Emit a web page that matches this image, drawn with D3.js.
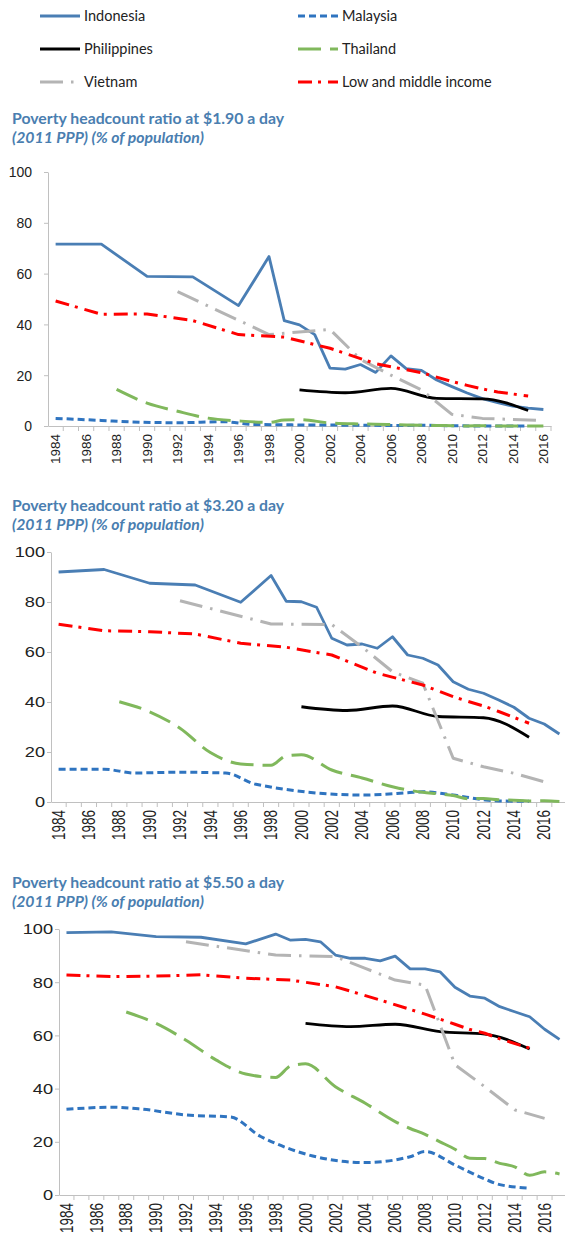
<!DOCTYPE html>
<html>
<head>
<meta charset="utf-8">
<script src="https://cdn.jsdelivr.net/npm/d3@7/dist/d3.min.js"></script>
<style>
  body { margin: 0; background: #fff; }
  svg { display: block; }
</style>
</head>
<body>
<svg id="chart" width="565" height="1239"></svg>
<script>
// ---- data ----
const seriesNames = ['Indonesia', 'Malaysia', 'Philippines', 'Thailand', 'Vietnam', 'Low and middle income'];
const yTicks = [0, 20, 40, 60, 80, 100];

// $1.90 a day
const indonesia190 = [[1984,71.6],[1987,71.6],[1990,58.9],[1993,58.7],[1996,47.4],[1998,66.7],[1999,41.5],[2000,39.8],[2001,36.0],[2002,22.8],[2003,22.4],[2004,24.2],[2005,21.1],[2006,27.6],[2007,22.6],[2008,21.9],[2009,18.1],[2010,15.5],[2011,13.0],[2012,10.8],[2013,9.2],[2014,7.8],[2015,7.0],[2016,6.5]];
const malaysia190 = [[1984,3.0],[1987,2.2],[1989,1.6],[1992,1.3],[1995,1.7],[1997,0.6],[2004,0.3],[2007,0.2],[2008,0.3],[2010,0.1],[2012,0],[2013,0],[2015,0]];
const philippines190 = [[2000,14.2],[2003,13.1],[2006,14.8],[2009,10.9],[2012,10.7],[2015,6.1]];
const thailand190 = [[1988,14.4],[1990,9.0],[1992,5.8],[1994,3.1],[1996,2.0],[1998,1.4],[1999,2.4],[2000,2.5],[2002,1.2],[2004,0.8],[2006,0.6],[2007,0.4],[2008,0.3],[2009,0.2],[2010,0.1],[2011,0],[2012,0.1],[2013,0],[2014,0],[2015,0],[2016,0]];
const vietnam190 = [[1992,52.9],[1998,36.0],[2002,38.0],[2004,26.2],[2006,20.0],[2008,14.2],[2010,4.6],[2012,3.0],[2014,2.6],[2016,2.1]];
const lmic190 = [[1984,49.2],[1987,44.0],[1990,44.1],[1993,41.5],[1996,36.0],[1999,35.0],[2002,30.6],[2005,24.5],[2008,21.0],[2010,17.5],[2011,16.0],[2012,14.6],[2013,13.4],[2015,11.8]];

// $3.20 a day
const indonesia320 = [[1984,92.0],[1987,93.0],[1990,87.5],[1993,86.8],[1996,79.9],[1998,90.6],[1999,80.3],[2000,80.1],[2001,77.9],[2002,65.5],[2003,62.8],[2004,63.2],[2005,61.5],[2006,66.1],[2007,58.8],[2008,57.5],[2009,54.8],[2010,48.1],[2011,45.1],[2012,43.5],[2013,40.8],[2014,37.9],[2015,33.5],[2016,31.2],[2017,27.2]];
const malaysia320 = [[1984,13.1],[1987,13.1],[1989,11.6],[1992,11.9],[1995,11.6],[1997,7.1],[2004,2.8],[2007,3.7],[2008,4.1],[2010,2.8],[2012,0.9],[2013,0.4],[2015,0.3]];
const philippines320 = [[2000,38.1],[2003,36.6],[2006,38.4],[2009,34.2],[2012,33.7],[2015,25.9]];
const thailand320 = [[1988,40.1],[1990,36.1],[1992,29.5],[1994,19.8],[1996,15.2],[1998,14.7],[1999,18.5],[2000,18.9],[2002,12.8],[2004,9.6],[2006,6.1],[2007,4.8],[2008,3.9],[2009,3.3],[2010,2.6],[2011,1.3],[2012,1.4],[2013,0.9],[2014,0.7],[2015,0.4],[2016,0.5],[2017,0.2]];
const vietnam320 = [[1992,80.5],[1998,71.2],[2002,71.0],[2004,62.0],[2006,52.1],[2008,47.5],[2010,17.5],[2012,14.1],[2014,11.5],[2016,8.1]];
const lmic320 = [[1984,71.1],[1987,68.5],[1990,68.1],[1993,67.2],[1996,63.5],[1999,61.9],[2002,58.8],[2005,51.5],[2008,46.8],[2010,42.1],[2011,40.2],[2012,38.4],[2013,36.2],[2015,31.5]];

// $5.50 a day
const indonesia550 = [[1984,98.6],[1987,98.9],[1990,97.1],[1993,96.9],[1996,94.4],[1998,98.1],[1999,95.8],[2000,96.1],[2001,95.2],[2002,90.2],[2003,89.0],[2004,89.0],[2005,88.0],[2006,89.8],[2007,85.0],[2008,85.0],[2009,83.9],[2010,78.1],[2011,74.8],[2012,74.0],[2013,70.8],[2014,68.9],[2015,67.0],[2016,62.3],[2017,58.5]];
const malaysia550 = [[1984,32.2],[1987,33.0],[1989,32.3],[1992,30.1],[1995,29.3],[1997,22.0],[2004,12.2],[2007,14.4],[2008,16.4],[2010,11.3],[2012,6.0],[2013,3.9],[2015,2.6]];
const philippines550 = [[2000,64.5],[2003,63.3],[2006,64.2],[2009,61.4],[2012,60.5],[2015,54.9]];
const thailand550 = [[1988,68.8],[1990,64.5],[1992,58.2],[1994,50.8],[1996,45.5],[1998,44.2],[1999,48.5],[2000,49.3],[2002,40.7],[2004,34.5],[2006,27.6],[2007,25.0],[2008,22.8],[2009,20.0],[2010,17.2],[2011,13.8],[2012,13.7],[2013,11.9],[2014,10.6],[2015,7.4],[2016,8.7],[2017,7.9]];
const vietnam550 = [[1992,95.2],[1998,90.2],[2002,89.6],[2004,85.2],[2006,80.8],[2008,78.9],[2010,49.0],[2012,40.7],[2014,32.0],[2016,28.8]];
const lmic550 = [[1984,82.7],[1987,82.1],[1990,82.3],[1993,82.8],[1996,81.5],[1999,80.8],[2002,78.3],[2005,73.3],[2008,68.0],[2010,64.2],[2011,62.2],[2012,60.8],[2013,58.7],[2015,55.2]];

// ---- styles ----
const styles = [
  {color: '#4a7eb4', dash: null,          width: 2.8, curve: d3.curveLinear},
  {color: '#2f74c0', dash: '7,4',         width: 3,   curve: d3.curveMonotoneX},
  {color: '#000000', dash: null,          width: 2.8, curve: d3.curveMonotoneX},
  {color: '#80b85c', dash: '23,9',        width: 3,   curve: d3.curveMonotoneX},
  {color: '#b4b4b4', dash: '23,8,2.5,8',  width: 3,   curve: d3.curveLinear},
  {color: '#ff0000', dash: '14,6,3,7',    width: 3,   curve: d3.curveLinear}
];

const svg = d3.select('#chart');
const titleColor = '#4a7eb0';

// legend, two columns
const legend = svg.append('g').attr('class', 'legend');
seriesNames.forEach((name, i) => {
  const lx = i % 2 === 0 ? 40 : 298,
        ly = 16 + Math.floor(i / 2) * 33;
  legend.append('line')
    .attr('x1', lx).attr('x2', lx + 40)
    .attr('y1', ly).attr('y2', ly)
    .attr('stroke', styles[i].color)
    .attr('stroke-width', 3)
    .attr('stroke-dasharray', styles[i].dash);
  legend.append('text')
    .attr('x', lx + 44).attr('y', ly + 5)
    .text(name)
    .style('font-family', "Lato, 'Open Sans', sans-serif")
    .style('font-size', '14.5px')
    .style('fill', '#222');
});

const panels = [
  {price: '$1.90', data: [indonesia190, malaysia190, philippines190, thailand190, vietnam190, lmic190],
   titleY: 124, left: 48, right: 551, top: 172, bottom: 426, lastYear: 2016, stretch: 1, labelGap: 16},
  {price: '$3.20', data: [indonesia320, malaysia320, philippines320, thailand320, vietnam320, lmic320],
   titleY: 511, left: 51, right: 567, top: 552, bottom: 802, lastYear: 2017, stretch: 1.3, labelGap: 6},
  {price: '$5.50', data: [indonesia550, malaysia550, philippines550, thailand550, vietnam550, lmic550],
   titleY: 888, left: 59, right: 567, top: 929, bottom: 1195, lastYear: 2017, stretch: 1.3, labelGap: 6}
];

function drawPanel(p){
  const g = svg.append('g');

  g.append('text')
    .attr('x', 12).attr('y', p.titleY)
    .text(`Poverty headcount ratio at ${p.price} a day`)
    .style('font-family', "Lato, sans-serif")
    .style('font-weight', 700)
    .style('font-size', '15.8px')
    .style('fill', titleColor);
  g.append('text')
    .attr('x', 12).attr('y', p.titleY + 19)
    .text('(2011 PPP) (% of population)')
    .style('font-family', "Lato, sans-serif")
    .style('font-weight', 700)
    .style('font-style', 'italic')
    .style('font-size', '15.8px')
    .style('fill', titleColor);

  const years = d3.range(1984, p.lastYear + 1);
  const x = d3.scaleBand().domain(years).range([p.left, p.right]);
  const y = d3.scaleLinear().domain([0, 100]).range([p.bottom, p.top]);
  const cx = yr => x(yr) + x.bandwidth() / 2;

  // y axis
  const yAxis = g.append('g')
    .attr('transform', `translate(${p.left},0)`)
    .call(d3.axisLeft(y).tickValues(yTicks).tickSize(4).tickSizeOuter(0));
  yAxis.select('.domain').attr('stroke', '#c0c0c0');
  yAxis.selectAll('.tick line').attr('stroke', '#c0c0c0');
  yAxis.selectAll('.tick text')
    .attr('x', 0).attr('dy', '0.35em')
    .attr('transform', `translate(${-p.labelGap},0) scale(${p.stretch},1)`)
    .style('font-family', "'Liberation Sans', Arial, sans-serif")
    .style('font-size', '14px')
    .style('fill', '#222');

  // x axis: labels on even years, ticks at category boundaries
  const xAxis = g.append('g')
    .attr('transform', `translate(0,${p.bottom})`)
    .call(d3.axisBottom(x).tickValues(years.filter(d => d % 2 === 0)).tickSize(0).tickSizeOuter(0));
  xAxis.select('.domain').attr('stroke', '#c0c0c0');
  xAxis.selectAll('.tick text')
    .attr('x', 0).attr('y', 0).attr('dy', '0.35em')
    .attr('transform', `translate(0,8) rotate(-90) scale(1,${p.stretch})`)
    .style('text-anchor', 'end')
    .style('font-family', "'Liberation Sans', Arial, sans-serif")
    .style('font-size', '13.5px')
    .style('fill', '#222');
  g.append('g').selectAll('line')
    .data(years.slice(1).concat([null]))
    .enter()
    .append('line')
      .attr('x1', d => d === null ? p.right : x(d))
      .attr('x2', d => d === null ? p.right : x(d))
      .attr('y1', p.bottom).attr('y2', p.bottom + 5)
      .attr('stroke', '#c0c0c0');

  // series
  p.data.forEach((series, i) => {
    const line = d3.line()
      .x(d => cx(d[0]))
      .y(d => y(d[1]))
      .curve(styles[i].curve);
    g.append('path')
      .datum(series)
      .attr('d', line)
      .attr('fill', 'none')
      .attr('stroke', styles[i].color)
      .attr('stroke-width', styles[i].width)
      .attr('stroke-dasharray', styles[i].dash)
      .attr('stroke-linejoin', 'round');
  });
}

panels.forEach(drawPanel);
</script>
</body>
</html>
